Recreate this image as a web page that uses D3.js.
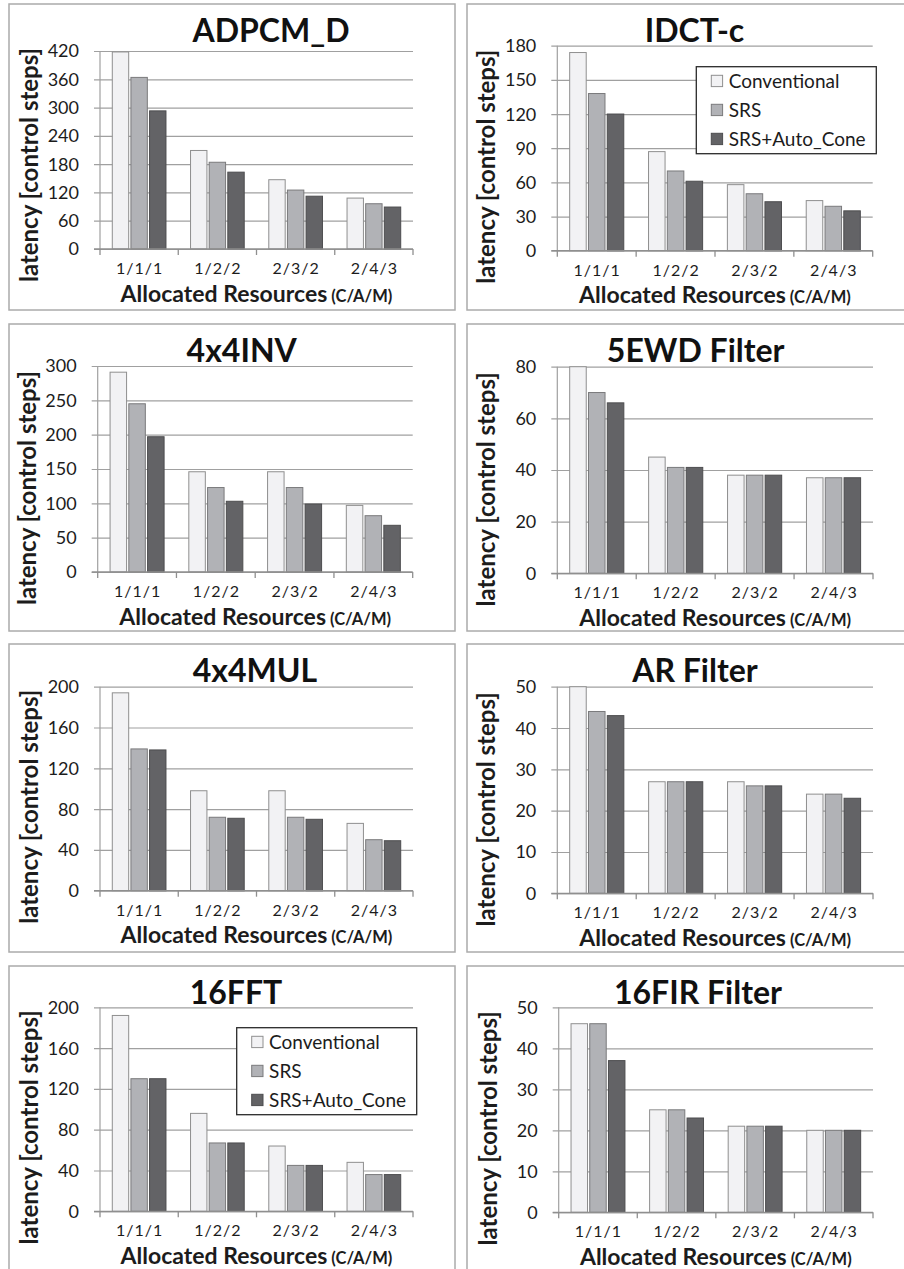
<!DOCTYPE html>
<html>
<head>
<meta charset="utf-8">
<script src="https://cdn.jsdelivr.net/npm/d3@7"></script>
<style>
  html, body { margin: 0; padding: 0; background: #fff; }
  svg { display: block; font-family: Lato, "Open Sans", "DejaVu Sans", sans-serif; }
</style>
</head>
<body>
<svg id="chart" width="904" height="1269"></svg>
<script>
// Resource allocations (chainers / adders / multipliers)
const categories = ["1/1/1", "1/2/2", "2/3/2", "2/4/3"];
const seriesNames = ["Conventional", "SRS", "SRS+Auto_Cone"];

const benchmarks = ["ADPCM_D", "IDCT-c", "4x4INV", "5EWD Filter", "4x4MUL", "AR Filter", "16FFT", "16FIR Filter"];

// latency in control steps, per benchmark: [Conventional, SRS, SRS+Auto_Cone] x categories
const adpcmConventional = [418, 209, 147, 108];
const adpcmSRS          = [364, 184, 125, 96];
const adpcmAutoCone     = [293, 163, 112, 89];

const idctConventional = [174, 87, 58, 44];
const idctSRS          = [138, 70, 50, 39];
const idctAutoCone     = [120, 61, 43, 35];

const inv4x4Conventional = [291, 146, 146, 97];
const inv4x4SRS          = [245, 123, 123, 82];
const inv4x4AutoCone     = [197, 103, 99, 68];

const ewdConventional = [80, 45, 38, 37];
const ewdSRS          = [70, 41, 38, 37];
const ewdAutoCone     = [66, 41, 38, 37];

const mul4x4Conventional = [194, 98, 98, 66];
const mul4x4SRS          = [139, 72, 72, 50];
const mul4x4AutoCone     = [138, 71, 70, 49];

const arConventional = [50, 27, 27, 24];
const arSRS          = [44, 27, 26, 24];
const arAutoCone     = [43, 27, 26, 23];

const fftConventional = [192, 96, 64, 48];
const fftSRS          = [130, 67, 45, 36];
const fftAutoCone     = [130, 67, 45, 36];

const firConventional = [46, 25, 21, 20];
const firSRS          = [46, 25, 21, 20];
const firAutoCone     = [37, 23, 21, 20];

// y-axis tick labels per benchmark
const adpcmTicks  = [0, 60, 120, 180, 240, 300, 360, 420];
const idctTicks   = [0, 30, 60, 90, 120, 150, 180];
const inv4x4Ticks = [0, 50, 100, 150, 200, 250, 300];
const ewdTicks    = [0, 20, 40, 60, 80];
const mul4x4Ticks = [0, 40, 80, 120, 160, 200];
const arTicks     = [0, 10, 20, 30, 40, 50];
const fftTicks    = [0, 40, 80, 120, 160, 200];
const firTicks    = [0, 10, 20, 30, 40, 50];

const panelData = [
  { series: [adpcmConventional, adpcmSRS, adpcmAutoCone], ticks: adpcmTicks },
  { series: [idctConventional, idctSRS, idctAutoCone], ticks: idctTicks },
  { series: [inv4x4Conventional, inv4x4SRS, inv4x4AutoCone], ticks: inv4x4Ticks },
  { series: [ewdConventional, ewdSRS, ewdAutoCone], ticks: ewdTicks },
  { series: [mul4x4Conventional, mul4x4SRS, mul4x4AutoCone], ticks: mul4x4Ticks },
  { series: [arConventional, arSRS, arAutoCone], ticks: arTicks },
  { series: [fftConventional, fftSRS, fftAutoCone], ticks: fftTicks },
  { series: [firConventional, firSRS, firAutoCone], ticks: firTicks }
];

// ---- layout (pixel geometry of each small-multiple) ----
const frames = [
  { x: 9,   y: 4,   w: 446, h: 306 }, { x: 467, y: 4,   w: 450, h: 306 },
  { x: 9,   y: 324, w: 446, h: 307 }, { x: 467, y: 324, w: 450, h: 307 },
  { x: 9,   y: 644, w: 446, h: 308 }, { x: 467, y: 644, w: 450, h: 308 },
  { x: 9,   y: 966, w: 446, h: 330 }, { x: 467, y: 966, w: 450, h: 330 }
];
const plots = [
  { x0: 100,   x1: 413,   yTop: 51,     yZero: 249,    titleX: 271 },
  { x0: 557.3, x1: 872.7, yTop: 45.7,   yZero: 250.7,  titleX: 694.5 },
  { x0: 97.7,  x1: 412.7, yTop: 366,    yZero: 572,    titleX: 241.7 },
  { x0: 557.3, x1: 873,   yTop: 366.7,  yZero: 573.3,  titleX: 695.7 },
  { x0: 100,   x1: 413,   yTop: 686.7,  yZero: 890.7,  titleX: 255 },
  { x0: 557.3, x1: 873,   yTop: 686.7,  yZero: 893.3,  titleX: 695 },
  { x0: 100,   x1: 413,   yTop: 1007.3, yZero: 1211.3, titleX: 236 },
  { x0: 558.7, x1: 873,   yTop: 1007.3, yZero: 1212.3, titleX: 698 }
];
// legend boxes drawn in panels 2 and 7
const legends = { 1: { x: 696.3, y: 66.7 }, 6: { x: 236.7, y: 1027.7 } };

const fills   = ["#f2f2f4", "#b1b2b6", "#636366"];
const strokes = ["#8f8f8f", "#7a7a7c", "#4d4d4f"];
const textColor = "#1c1c1c";
const gridColor = "#a0a0a0";

const svg = d3.select("#chart");

panelData.forEach((pd, i) => {
  const fr = frames[i], p = plots[i];
  const g = svg.append("g");

  // panel frame
  g.append("rect")
    .attr("x", fr.x).attr("y", fr.y).attr("width", fr.w).attr("height", fr.h)
    .attr("fill", "#fff").attr("stroke", "#ababab").attr("stroke-width", 1.5);

  const ticks = pd.ticks;
  const y = d3.scaleLinear().domain([0, ticks[ticks.length - 1]]).range([p.yZero, p.yTop]);
  const x = d3.scaleBand().domain(categories).range([p.x0, p.x1])
    .paddingInner(0.314).paddingOuter(0.157);
  const xs = d3.scaleBand().domain(d3.range(seriesNames.length)).range([0, x.bandwidth()])
    .paddingInner(0.12).paddingOuter(0);

  // horizontal gridlines with short outer ticks, via the library axis
  const yAxis = d3.axisLeft(y).tickValues(ticks)
    .tickSize(-(p.x1 - p.x0)).tickSizeOuter(0).tickPadding(0).tickFormat("");
  const ya = g.append("g").attr("transform", `translate(${p.x0},0)`).call(yAxis);
  ya.select(".domain").remove();
  ya.selectAll(".tick line")
    .attr("x1", -6).attr("x2", p.x1 - p.x0)
    .attr("stroke", gridColor).attr("stroke-width", 1.2);

  // y tick labels
  g.append("g").selectAll("text").data(ticks).join("text")
    .attr("x", p.x0 - 21).attr("y", d => y(d))
    .attr("dy", "0.36em").attr("text-anchor", "end")
    .attr("font-size", 18).attr("fill", textColor)
    .text(d => d);

  // vertical axis line
  g.append("line")
    .attr("x1", p.x0).attr("x2", p.x0).attr("y1", p.yTop).attr("y2", p.yZero)
    .attr("stroke", gridColor).attr("stroke-width", 1.2);

  // bars
  pd.series.forEach((vals, s) => {
    g.append("g").selectAll("rect").data(vals).join("rect")
      .attr("x", (d, c) => x(categories[c]) + xs(s))
      .attr("width", xs.bandwidth())
      .attr("y", d => y(d))
      .attr("height", d => p.yZero - y(d))
      .attr("fill", fills[s]).attr("stroke", strokes[s]).attr("stroke-width", 1);
  });

  // category axis with boundary ticks
  g.append("line")
    .attr("x1", p.x0 - 6).attr("x2", p.x1).attr("y1", p.yZero).attr("y2", p.yZero)
    .attr("stroke", "#8f8f8f").attr("stroke-width", 1.3);
  const bounds = categories.map(c => x(c) - x.step() * x.paddingOuter()).concat([p.x1]);
  g.append("g").selectAll("line").data(bounds).join("line")
    .attr("x1", d => d).attr("x2", d => d)
    .attr("y1", p.yZero).attr("y2", p.yZero + 6)
    .attr("stroke", "#8f8f8f").attr("stroke-width", 1.3);

  g.append("g").selectAll("text").data(categories).join("text")
    .attr("x", d => x(d) + x.bandwidth() / 2 + 0.5).attr("y", p.yZero + 25)
    .attr("text-anchor", "middle").attr("font-size", 16)
    .attr("letter-spacing", 1).attr("fill", textColor)
    .text(d => d);

  // x axis title
  const xt = g.append("text")
    .attr("x", (p.x0 + p.x1) / 2).attr("y", p.yZero + 52.7)
    .attr("text-anchor", "middle").attr("fill", textColor).attr("font-weight", "bold");
  xt.append("tspan").attr("font-size", 23).text("Allocated Resources");
  xt.append("tspan").attr("font-size", 16.5).text(" (C/A/M)");

  // y axis title
  g.append("text")
    .attr("transform", `translate(${p.x0 - 62},${p.yZero - 84}) rotate(-90)`)
    .attr("text-anchor", "middle").attr("font-size", 24).attr("font-weight", "bold")
    .attr("fill", textColor)
    .text("latency [control steps]");

  // chart title
  g.append("text")
    .attr("x", p.titleX).attr("y", fr.y + 37.5)
    .attr("text-anchor", "middle").attr("font-size", 32).attr("font-weight", "bold")
    .attr("fill", "#111")
    .text(benchmarks[i]);

  // legend
  if (legends[i]) {
    const L = legends[i];
    const lg = g.append("g").attr("transform", `translate(${L.x},${L.y})`);
    lg.append("rect").attr("width", 180).attr("height", 87)
      .attr("fill", "#fff").attr("stroke", "#2a2a2a").attr("stroke-width", 1.3);
    const rows = lg.selectAll("g").data(seriesNames).join("g")
      .attr("transform", (d, k) => `translate(0,${14.3 + k * 29})`);
    rows.append("rect")
      .attr("x", 15).attr("y", -5.7).attr("width", 11.3).attr("height", 11.3)
      .attr("fill", (d, k) => fills[k]).attr("stroke", (d, k) => strokes[k]).attr("stroke-width", 1);
    rows.append("text")
      .attr("x", 32.4).attr("y", 0).attr("dy", "0.36em")
      .attr("font-size", 19).attr("fill", textColor)
      .text(d => d);
  }
});
</script>
</body>
</html>
